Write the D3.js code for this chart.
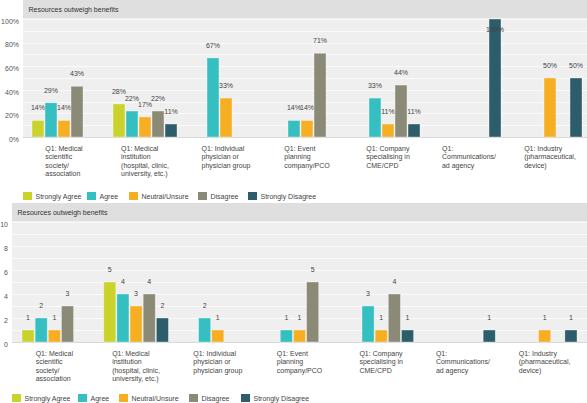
<!DOCTYPE html>
<html><head><meta charset="utf-8">
<script src="https://cdn.jsdelivr.net/npm/d3@7"></script>
<style>
body{margin:0;background:#fff;}
svg{display:block;font-family:"Liberation Sans",Arial,Helvetica,sans-serif;}
</style></head>
<body><svg id="c" width="587" height="403"></svg>
<script>
const categories = [
  ["Q1: Medical","scientific","society/","association"],
  ["Q1: Medical","institution","(hospital, clinic,","university, etc.)"],
  ["Q1: Individual","physician or","physician group"],
  ["Q1: Event","planning","company/PCO"],
  ["Q1: Company","specialising in","CME/CPD"],
  ["Q1:","Communications/","ad agency"],
  ["Q1: Industry","(pharmaceutical,","device)"]
];
const seriesNames = ["Strongly Agree","Agree","Neutral/Unsure","Disagree","Strongly Disagree"];
const seriesColors = ["#c9d32b","#35bfc1","#f6ae23","#8a8a77","#2d5c6a"];
// percentages
const pctStronglyAgree    = [14,28,0,0,0,0,0];
const pctAgree            = [29,22,67,14,33,0,0];
const pctNeutral          = [14,17,33,14,11,0,50];
const pctDisagree         = [43,22,0,71,44,0,0];
const pctStronglyDisagree = [0,11,0,0,11,100,50];
// counts
const cntStronglyAgree    = [1,5,0,0,0,0,0];
const cntAgree            = [2,4,2,1,3,0,0];
const cntNeutral          = [1,3,1,1,1,0,1];
const cntDisagree         = [3,4,0,5,4,0,0];
const cntStronglyDisagree = [0,2,0,0,1,1,1];
const pctTicks = [0,20,40,60,80,100];
const cntTicks = [0,2,4,6,8,10];
const panelTitle = "Resources outweigh benefits";

const pctSeries = [pctStronglyAgree,pctAgree,pctNeutral,pctDisagree,pctStronglyDisagree];
const cntSeries = [cntStronglyAgree,cntAgree,cntNeutral,cntDisagree,cntStronglyDisagree];

const svg = d3.select("#c");
const FS = 7;
const txtCol = "#444";

function drawChart(o){
  const g = svg.append("g");
  // header
  g.append("rect").attr("x",o.left).attr("y",o.headTop).attr("width",587-o.left).attr("height",o.top-o.headTop).attr("fill","#dfdfdf");
  g.append("text").attr("x",o.left+5.5).attr("y",(o.headTop+o.top)/2+2.5).attr("font-size",FS).attr("fill","#333").text(panelTitle);
  // plot bg
  g.append("rect").attr("x",o.left).attr("y",o.top).attr("width",587-o.left).attr("height",o.bottom-o.top).attr("fill","#efefef");
  const y = d3.scaleLinear().domain([0,o.max]).range([o.bottom,o.top+1]);
  // gridlines
  g.selectAll(".grid").data(d3.range(o.gridStep,o.max+0.001,o.gridStep)).enter().append("line")
    .attr("x1",o.left).attr("x2",587).attr("y1",d=>Math.round(y(d))+0.5).attr("y2",d=>Math.round(y(d))+0.5)
    .attr("stroke","#fafafa").attr("stroke-width",1);
  g.append("line").attr("x1",o.left).attr("x2",587).attr("y1",o.bottom+0.5).attr("y2",o.bottom+0.5).attr("stroke","#d8d8d8");
  // y axis
  const yAxis = d3.axisLeft(y).tickValues(o.ticks).tickSize(0).tickPadding(0).tickFormat(o.fmt);
  const ya = g.append("g").attr("transform",`translate(${o.axisX},0)`).call(yAxis);
  ya.select(".domain").remove();
  ya.selectAll("text").attr("font-size",FS).attr("fill","#555").attr("font-family","Liberation Sans, Arial, sans-serif").attr("dy","0.6em");
  // x scales
  const x0 = d3.scaleBand().domain(d3.range(categories.length)).range(o.xRange);
  const x1 = d3.scaleBand().domain(d3.range(seriesNames.length)).range([8.5,x0.bandwidth()-8.5]).paddingInner(0.08);
  categories.forEach((cat,ci)=>{
    const cg = g.append("g").attr("transform",`translate(${x0(ci)},0)`);
    seriesNames.forEach((s,si)=>{
      const v = o.series[si][ci];
      if(!v) return;
      cg.append("rect").attr("x",x1(si)).attr("y",y(v)).attr("width",x1.bandwidth()).attr("height",o.bottom-y(v))
        .attr("fill",seriesColors[si]).attr("stroke","rgba(255,255,255,0.45)").attr("stroke-width",0.8);
      cg.append("text").attr("x",x1(si)+x1.bandwidth()/2).attr("y",Math.max(y(v)-10,o.top+14))
        .attr("text-anchor","middle").attr("font-size",FS).attr("fill",txtCol).text(o.lab(v));
    });
    // category label block
    const lg = g.append("g");
    const texts = cat.map((line,li)=>lg.append("text").attr("y",o.bottom+14+li*8.4).attr("font-size",FS).attr("fill",txtCol).text(line));
    const w = d3.max(texts,t=>t.node().getComputedTextLength());
    const cx = x0(ci)+x0.bandwidth()/2;
    texts.forEach(t=>t.attr("x",cx-w/2));
  });
  // legend
  seriesNames.forEach((s,si)=>{
    const lx = o.legXs[si];
    g.append("rect").attr("x",lx).attr("y",o.legY-4).attr("width",9).attr("height",8).attr("fill",seriesColors[si]);
    g.append("text").attr("x",lx+12.5).attr("y",o.legY+2.5).attr("font-size",FS).attr("fill",txtCol).text(s);
  });
}

drawChart({headTop:0,top:18,bottom:137,left:23,max:100,gridStep:10,ticks:pctTicks,fmt:d=>d+"%",axisX:19,
  xRange:[23.5,590.5],series:pctSeries,lab:v=>v+"%",legXs:[23,87,129,198,248],legY:196});
drawChart({headTop:203,top:221,bottom:342,left:12,max:10,gridStep:1,ticks:cntTicks,fmt:d=>d,axisX:8,
  xRange:[13.5,585.5],series:cntSeries,lab:v=>v,legXs:[12,78,119,189,241],legY:398});
</script></body></html>
